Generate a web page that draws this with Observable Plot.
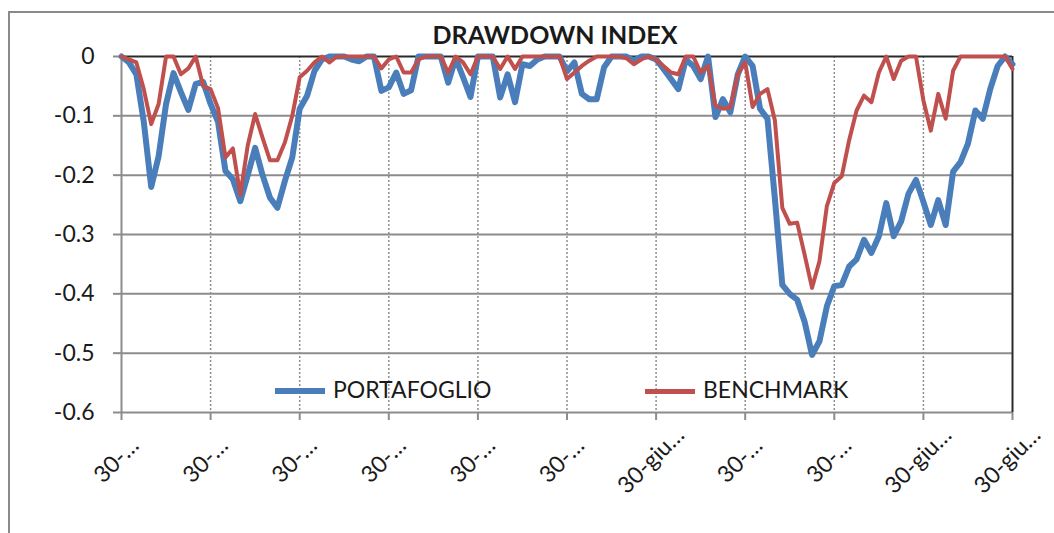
<!DOCTYPE html>
<html><head><meta charset="utf-8">
<script src="https://cdn.jsdelivr.net/npm/d3@7"></script>
<script src="https://cdn.jsdelivr.net/npm/@observablehq/plot@0.6"></script>
<style>
body{margin:0;background:#fff;font-family:Lato,"Open Sans",sans-serif;}
#wrap{position:relative;width:1054px;height:533px;overflow:hidden;background:#fff;}
#frame{position:absolute;left:8px;top:11px;width:1100px;height:600px;border:2px solid #8a8a8a;box-sizing:border-box;}
#title{position:absolute;left:0;width:1110px;top:19px;text-align:center;font-weight:bold;font-size:25px;line-height:1.2;color:#1a1a1a;}
#chart{position:absolute;left:0;top:0;}
.leg{position:absolute;font-size:23px;line-height:1.2;color:#1a1a1a;white-space:nowrap;}
.sw{position:absolute;height:6px;}
</style></head>
<body>
<div id="wrap">
  <div id="frame"></div>
  <div id="chart"></div>
  <div id="title"></div>
  <div id="legend"></div>
</div>
<script>
const title = "DRAWDOWN INDEX";
const seriesNames = ["PORTAFOGLIO", "BENCHMARK"];
const seriesColors = ["#4a7ebb", "#c0504d"];
const xTickIndex = [0,12,24,36,48,60,72,84,96,108,120];
const xTickLabels = ["30-…","30-…","30-…","30-…","30-…","30-…","30-giu…","30-…","30-…","30-giu…","30-giu…"];
const yTicks = [0,-0.1,-0.2,-0.3,-0.4,-0.5,-0.6];
const yTickLabels = ["0","-0.1","-0.2","-0.3","-0.4","-0.5","-0.6"];
const portafoglio = [
 0,-0.01,-0.03,-0.11,-0.22,-0.168,-0.08,-0.028,-0.06,-0.09,-0.046,-0.043,
 -0.08,-0.11,-0.193,-0.207,-0.244,-0.2,-0.154,-0.2,-0.238,-0.255,-0.21,-0.17,
 -0.088,-0.066,-0.024,-0.005,0,0,0,-0.005,-0.008,0,0,-0.058,
 -0.052,-0.027,-0.063,-0.057,0,0,0,0,-0.044,-0.003,-0.035,-0.068,
 0,0,0,-0.069,-0.03,-0.077,-0.013,-0.016,-0.005,0,0,0,
 -0.025,-0.01,-0.063,-0.072,-0.072,-0.018,0,0,0,-0.007,0,0,
 -0.005,-0.021,-0.038,-0.055,-0.005,-0.016,-0.038,0,-0.102,-0.072,-0.094,-0.03,
 0,-0.016,-0.088,-0.105,-0.24,-0.385,-0.4,-0.41,-0.447,-0.503,-0.48,-0.421,
 -0.387,-0.385,-0.354,-0.342,-0.309,-0.331,-0.303,-0.247,-0.303,-0.278,-0.231,-0.208,
 -0.245,-0.284,-0.242,-0.284,-0.194,-0.178,-0.147,-0.091,-0.105,-0.055,-0.016,0,
 -0.013];
const benchmark = [
 0,-0.005,-0.01,-0.055,-0.114,-0.08,0,0,-0.03,-0.02,0,-0.05,
 -0.055,-0.087,-0.17,-0.155,-0.233,-0.15,-0.097,-0.137,-0.175,-0.175,-0.145,-0.1,
 -0.035,-0.024,-0.01,0,-0.01,0,0,0,0,0,0,-0.02,
 -0.005,0,-0.027,-0.027,-0.005,0,0,0,-0.027,0,-0.01,-0.03,
 0,0,0,-0.021,0,-0.021,0,0,0,0,0,0,
 -0.038,-0.027,-0.016,-0.007,0,0,0,0,-0.003,-0.013,-0.005,0,
 -0.005,-0.016,-0.027,-0.03,0,0,-0.027,-0.016,-0.083,-0.088,-0.086,-0.03,
 -0.01,-0.085,-0.063,-0.055,-0.108,-0.255,-0.282,-0.28,-0.334,-0.39,-0.345,-0.252,
 -0.213,-0.202,-0.141,-0.091,-0.066,-0.077,-0.027,0,-0.038,-0.007,0,0,
 -0.074,-0.125,-0.063,-0.105,-0.024,0,0,0,0,0,0,0,
 -0.021];

const data = portafoglio.map((p, i) => ({m: i, p, b: benchmark[i]}));
const ink = "#1a1a1a", grid = "#8c8c8c";

const plot = Plot.plot({
  width: 1054, height: 533,
  marginLeft: 121, marginRight: 42, marginTop: 56, marginBottom: 121,
  x: {type: "linear", domain: [0, 120], axis: null, label: null},
  y: {type: "linear", domain: [-0.6, 0], axis: null, label: null},
  style: {fontFamily: "Lato, 'Open Sans', sans-serif", fontSize: "23px", color: ink, background: "transparent", overflow: "visible"},
  marks: [
    Plot.ruleY(yTicks.filter(d => d < 0), {stroke: grid, strokeWidth: 2}),
    Plot.ruleX(xTickIndex.slice(1, -1), {stroke: "#8f8f8f", strokeWidth: 1.5, strokeDasharray: "2,2"}),
    Plot.ruleX([xTickIndex[0]], {stroke: grid, strokeWidth: 2}),
    Plot.ruleY([0], {stroke: "#2a2a2a", strokeWidth: 2}),
    Plot.ruleX([xTickIndex[xTickIndex.length - 1]], {stroke: "#2a2a2a", strokeWidth: 2}),
    Plot.axisY({ticks: yTicks, tickFormat: d => yTickLabels[Math.round(-d * 10)], tickSize: 8, tickPadding: 19, stroke: grid, strokeWidth: 2, fill: ink, fontSize: 23, label: null}),
    Plot.axisX({ticks: xTickIndex, tickFormat: () => "", tickSize: 8, stroke: grid, strokeWidth: 2, label: null}),
    Plot.text(xTickIndex, {x: d => d, frameAnchor: "bottom", text: (d, i) => xTickLabels[i], rotate: -45, textAnchor: "middle", lineAnchor: "middle", dx: -5, dy: 48, fill: ink, fontSize: 23}),
    Plot.line(data, {x: "m", y: "p", stroke: seriesColors[0], strokeWidth: 6, strokeLinejoin: "round"}),
    Plot.line(data, {x: "m", y: "b", stroke: seriesColors[1], strokeWidth: 4, strokeLinejoin: "round"})
  ]
});
document.getElementById("chart").appendChild(plot);
document.getElementById("title").textContent = title;

const legend = document.getElementById("legend");
const legPos = [{sw: 275, tx: 333}, {sw: 645, tx: 703}];
seriesNames.forEach((name, i) => {
  const sw = document.createElement("div");
  sw.className = "sw";
  sw.style.left = legPos[i].sw + "px";
  sw.style.width = "50px";
  sw.style.top = (i === 0 ? 388 : 389) + "px";
  sw.style.height = (i === 0 ? 6 : 5) + "px";
  sw.style.background = seriesColors[i];
  legend.appendChild(sw);
  const tx = document.createElement("div");
  tx.className = "leg";
  tx.style.left = legPos[i].tx + "px";
  tx.style.top = "376px";
  tx.textContent = name;
  legend.appendChild(tx);
});
</script>
</body></html>
